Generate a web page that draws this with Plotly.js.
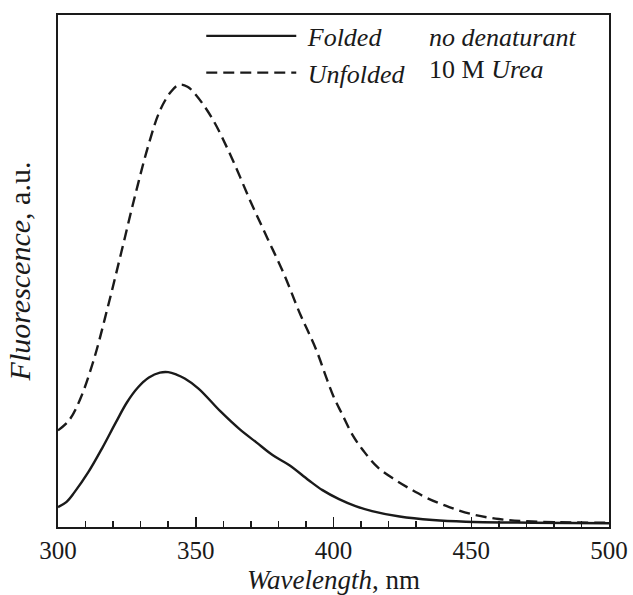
<!DOCTYPE html>
<html>
<head>
<meta charset="utf-8">
<script src="https://cdn.plot.ly/plotly-3.0.1.min.js"></script>
<style>html,body{margin:0;padding:0;background:#fff;}#chart{width:633px;height:595px;}</style>
</head>
<body>
<div id="chart"></div>
<script>
// Wavelength (nm) and fluorescence (a.u.)
var foldedX = [300,303,306,311,316,321,325,329,333,337,340,343,346,351,359,366,372,378,384,391,396,402,408,414,424,436,448,472,500];
var foldedY = [20,25,35,55,79,105,125,140,150,155,155.5,153,149,139,116,98,85,72,62,47,37,28,21,16,10.5,7,5.3,4.3,3.7];
var unfoldedX = [300,304,308,313,318,323,328,333,337,341,344,347,350,356,363,370,376,382,388,391,394,397,400,403,407,411,416,422,428,434,442,450,460,472,500];
var unfoldedY = [97,107,128,168,220,276,333,385,418,437,444,442,434,410,371,326,290,254,213,195,176,153,131,114,92,76,60,48,38,29,20,13,8,5.5,4.3];
var seriesNames = ['<i>Folded</i>', '<i>Unfolded</i>'];
var conditionLabels = ['<i>no denaturant</i>', '10 M <i>Urea</i>'];
var xTicks = [300,350,400,450,500];

var serif = 'Liberation Serif';
var ink = '#1a1a1a';
var traces = [
  {x: foldedX, y: foldedY, name: '\u00a0' + seriesNames[0], mode: 'lines',
   line: {color: ink, width: 2.4, shape: 'spline', smoothing: 1}},
  {x: unfoldedX, y: unfoldedY, name: '\u00a0' + seriesNames[1], mode: 'lines',
   line: {color: ink, width: 2.4, dash: '11px,6px', shape: 'spline', smoothing: 1}}
];
var layout = {
  width: 633, height: 595,
  margin: {l: 58, r: 24, t: 13, b: 68},
  paper_bgcolor: '#fff', plot_bgcolor: '#fff',
  font: {family: serif, size: 26, color: ink},
  showlegend: true,
  legend: {x: 0.26, y: 1.005, xanchor: 'left', yanchor: 'top', bgcolor: 'rgba(0,0,0,0)',
           font: {family: serif, size: 26, color: ink}, itemwidth: 90, tracegroupgap: 0},
  xaxis: {range: [300, 500], tickvals: xTicks, ticktext: xTicks.map(String),
          ticks: 'inside', ticklen: 10, tickwidth: 1.5, tickcolor: ink,
          minor: {dtick: 10, tick0: 300, ticks: 'inside', ticklen: 6, tickwidth: 1.5, tickcolor: ink, showgrid: false},
          showline: true, linewidth: 2, linecolor: ink, mirror: true,
          showgrid: false, zeroline: false,
          tickfont: {family: serif, size: 25, color: ink},
          title: {text: '<i>Wavelength</i>, nm', font: {family: serif, size: 27, color: ink}, standoff: 7}},
  yaxis: {range: [0, 514], showticklabels: false, ticks: '',
          showline: true, linewidth: 2, linecolor: ink, mirror: true,
          showgrid: false, zeroline: false,
          title: {text: '<i>Fluorescence</i>, a.u.', font: {family: serif, size: 30, color: ink}, standoff: 17}},
  annotations: [
    {xref: 'paper', yref: 'paper', x: 0.67, y: 0.956, xanchor: 'left', yanchor: 'middle',
     text: conditionLabels[0], showarrow: false, font: {family: serif, size: 26, color: ink}},
    {xref: 'paper', yref: 'paper', x: 0.67, y: 0.893, xanchor: 'left', yanchor: 'middle',
     text: conditionLabels[1], showarrow: false, font: {family: serif, size: 26, color: ink}}
  ]
};
Plotly.newPlot('chart', traces, layout, {displayModeBar: false, staticPlot: true});
</script>
</body>
</html>
